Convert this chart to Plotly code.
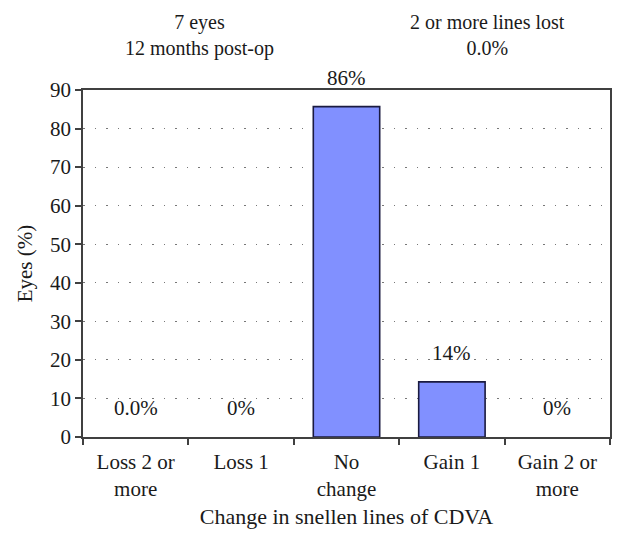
import plotly.graph_objects as go

categories = ["Loss 2 or<br>more", "Loss 1", "No<br>change", "Gain 1", "Gain 2 or<br>more"]
values = [0.0, 0.0, 85.7, 14.3, 0.0]
bar_labels = ["0.0%", "0%", "86%", "14%", "0%"]
y_ticks = [0, 10, 20, 30, 40, 50, 60, 70, 80, 90]
header_left = ["7 eyes", "12 months post-op"]
header_right = ["2 or more lines lost", "0.0%"]

FONT = "Liberation Serif"
AX = "#404040"
TXT = "#1a1a1a"
FS = 21

fig = go.Figure()
fig.add_trace(go.Bar(
    x=categories, y=values, width=0.63,
    marker=dict(color="#8190ff",
                line=dict(color="#1a1a40", width=[1.6 if v > 0 else 0 for v in values])),
    hoverinfo="skip",
))

for c, v, t in zip(categories, values, bar_labels):
    fig.add_annotation(x=c, y=v, xref="x", yref="y", text=t, showarrow=False,
                       xanchor="center", yanchor="middle", yshift=29,
                       font=dict(size=FS, color=TXT, family=FONT))

for lines, xp in ((header_left, 0.222), (header_right, 0.768)):
    fig.add_annotation(x=xp, y=1.158, xref="paper", yref="paper", text="<br>".join(lines),
                       xanchor="center", yanchor="middle", showarrow=False, align="center",
                       font=dict(size=20, color=TXT, family=FONT))

fig.update_layout(
    width=625, height=544,
    margin=dict(l=83, r=15, t=90, b=107),
    paper_bgcolor="white", plot_bgcolor="white",
    showlegend=False,
    font=dict(family=FONT, size=FS, color=TXT),
    xaxis=dict(
        type="category", tickson="boundaries", ticks="outside", ticklen=6,
        tickcolor=AX, tickwidth=1.5, ticklabelstandoff=5,
        showline=True, linecolor=AX, linewidth=1.5, mirror=True,
        showgrid=False,
        title=dict(text="Change in snellen lines of CDVA", standoff=8, font=dict(size=22)),
        tickfont=dict(size=FS),
    ),
    yaxis=dict(
        range=[0, 90], tickvals=y_ticks, ticks="outside", ticklen=6,
        tickcolor=AX, tickwidth=1.5,
        showline=True, linecolor=AX, linewidth=1.5, mirror=True,
        showgrid=True, gridcolor="#777", gridwidth=1, griddash="1.5px,10px",
        zeroline=False,
        title=dict(text="Eyes (%)", standoff=12, font=dict(size=FS)),
        tickfont=dict(size=FS),
    ),
)

fig.write_html("out.html", config={"displayModeBar": False},
               post_script="document.body.style.margin='0';")
